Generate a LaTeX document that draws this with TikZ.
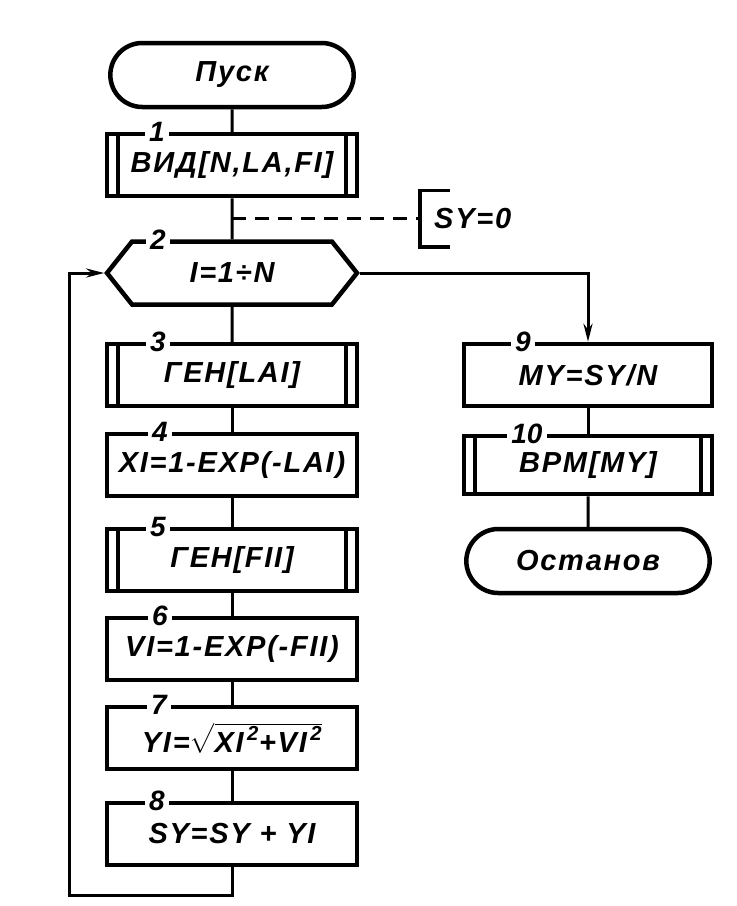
\documentclass[tikz,border=0pt]{standalone}
\usepackage{fontspec}
\usepackage{amsmath}
\setmainfont{Liberation Sans}
\usetikzlibrary{shapes.misc, shapes.symbols, arrows.meta, positioning, calc}

\newcommand{\txtfont}{\fontsize{29}{31}\selectfont\bfseries\itshape\addfontfeatures{LetterSpace=6}}

\tikzset{
    term/.style={draw, rounded rectangle, minimum width=250pt, minimum height=64pt, line width=4.5pt, font=\txtfont},
    proc/.style={draw, rectangle, minimum width=250pt, minimum height=62pt, line width=4.5pt, font=\txtfont},
    subproc/.style={proc, path picture={
        \draw[line width=3.5pt] ([xshift=11pt]path picture bounding box.north west) -- ([xshift=11pt]path picture bounding box.south west);
        \draw[line width=3.5pt] ([xshift=-11pt]path picture bounding box.north east) -- ([xshift=-11pt]path picture bounding box.south east);}},
    loopbox/.style={draw, signal, signal to=west and east, signal pointer angle=103, minimum width=250pt, minimum height=63pt, line width=4.5pt, font=\txtfont},
    num/.style={fill=white, inner sep=4pt, font=\fontsize{28}{28}\selectfont\bfseries\itshape},
    annot/.style={inner xsep=14pt, minimum height=56pt, font=\txtfont},
    conn/.style={line width=3pt},
    arr/.style={conn, -{Stealth[length=18pt, width=9pt]}}
}

\begin{document}
\begin{tikzpicture}[x=1pt, y=1pt]
    \useasboundingbox (0,0) rectangle (737,-906);

    % Nodes
    \node (t0) [term] at (232,-75) {Пуск};
    \node (b1) [subproc, node distance=90pt, below of=t0] {ВИД[N,LA,FI]};
    \node (h2) [loopbox, node distance=108pt, below of=b1] {I=1÷N};
    \node (b3) [subproc, node distance=102pt, below of=h2] {ГЕН[LAI]};
    \node (b4) [proc, node distance=90pt, below of=b3] {XI=1-EXP(-LAI)};
    \node (b5) [subproc, node distance=95pt, below of=b4] {ГЕН[FII]};
    \node (b6) [proc, node distance=89pt, below of=b5] {VI=1-EXP(-FII)};
    \node (b7) [proc, node distance=89pt, below of=b6] {YI=$\sqrt{\text{XI}^{\,\text{2}}\text{+VI}^{\,\text{2}}}$};
    \node (b8) [proc, node distance=96pt, below of=b7] {SY=SY + YI};
    \node (b9) [proc, minimum width=248pt, node distance=356pt, right of=b3] {MY=SY/N};
    \node (b10) [subproc, minimum width=248pt, minimum height=58pt, node distance=90pt, below of=b9] {ВРМ[MY]};
    \node (t1) [term, node distance=96pt, below of=b10] {Останов};

    % Numbers
    \node (n1) [num] at ([xshift=-75pt]b1.north) {1};
    \node (n2) [num] at ([xshift=-74pt]h2.north) {2};
    \node (n3) [num] at ([xshift=-74pt]b3.north) {3};
    \node (n4) [num] at ([xshift=-72pt]b4.north) {4};
    \node (n5) [num] at ([xshift=-74pt]b5.north) {5};
    \node (n6) [num] at ([xshift=-72pt]b6.north) {6};
    \node (n7) [num] at ([xshift=-73pt]b7.north) {7};
    \node (n8) [num] at ([xshift=-75pt]b8.north) {8};
    \node (n9) [num] at ([xshift=-65pt]b9.north) {9};
    \node (n10) [num] at ([xshift=-61pt]b10.north) {10};

    % Comment
    \coordinate (c1) at ($(b1.south)!0.5!(h2.north)$);
    \node (ann) [annot, right=188pt of c1] {SY=0};
    \draw[line width=3.5pt] ([xshift=30pt]ann.north west) -- (ann.north west) -- (ann.south west) -- ([xshift=30pt]ann.south west);
    \draw[conn, dash pattern=on 14pt off 9pt] (c1) -- (ann.west);

    % Edges
    \draw[conn] (t0) -- (b1);
    \draw[conn] (b1) -- (h2);
    \draw[conn] (h2) -- (b3);
    \draw[conn] (b3) -- (b4);
    \draw[conn] (b4) -- (b5);
    \draw[conn] (b5) -- (b6);
    \draw[conn] (b6) -- (b7);
    \draw[conn] (b7) -- (b8);
    \draw[arr] (b8.south) -- ++(0,-28pt) -| ($(h2.west)+(-35pt,0)$) -- (h2.west);
    \draw[arr] (h2.east) -| (b9.north);
    \draw[conn] (b9) -- (b10);
    \draw[conn] (b10) -- (t1);
\end{tikzpicture}
\end{document}
